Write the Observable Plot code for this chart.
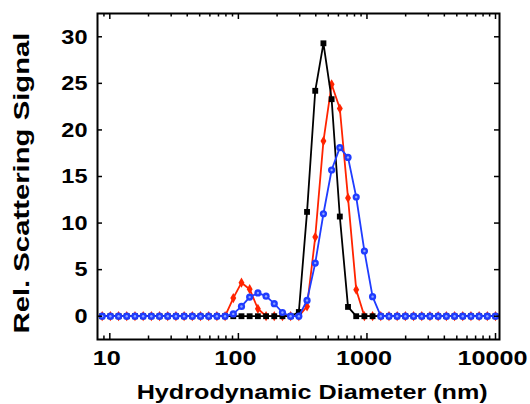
<!DOCTYPE html>
<html>
<head>
<meta charset="utf-8">
<script src="https://cdn.jsdelivr.net/npm/d3@7"></script>
<script src="https://cdn.jsdelivr.net/npm/@observablehq/plot@0.6"></script>
<style>
  body { margin: 0; background: #fff; }
  svg { font-family: "Liberation Sans", Arial, sans-serif; }
</style>
</head>
<body>
<div id="chart"></div>
<script>
// Size classes of the DLS intensity distribution (nm)
const sizes = [8.72, 10.10, 11.70, 13.54, 15.69, 18.17, 21.04, 24.36, 28.21, 32.67,
  37.84, 43.82, 50.75, 58.77, 68.06, 78.82, 91.28, 105.7, 122.4, 141.8,
  164.2, 190.1, 220.2, 255.0, 295.3, 342.0, 396.1, 458.7, 531.2, 615.1,
  712.4, 825.0, 955.4, 1106, 1281, 1484, 1718, 1990, 2305, 2669,
  3091, 3580, 4145, 4801, 5560, 6439, 7456, 8635, 10000];

// Relative scattering signal (%) per size class
const blackSignal = [0, 0, 0, 0, 0, 0, 0, 0, 0, 0,
  0, 0, 0, 0, 0, 0, 0, 0, 0, 0,
  0, 0, 0, 0, 0.45, 11.2, 24.2, 29.3, 23.3, 10.7,
  1.0, 0, 0, 0, 0, 0, 0, 0, 0, 0,
  0, 0, 0, 0, 0, 0, 0, 0, 0];
const redSignal = [0, 0, 0, 0, 0, 0, 0, 0, 0, 0,
  0, 0, 0, 0, 0, 0, 1.95, 3.6, 2.9, 0.8,
  0, 0, 0, 0, 0, 1.05, 8.5, 18.8, 24.9, 22.3,
  12.7, 2.85, 0, 0, 0, 0, 0, 0, 0, 0,
  0, 0, 0, 0, 0, 0, 0, 0, 0];
const blueSignal = [0, 0, 0, 0, 0, 0, 0, 0, 0, 0,
  0, 0, 0, 0, 0, 0, 0.25, 1.05, 2.05, 2.5,
  2.15, 1.35, 0.4, 0, 0, 1.7, 5.7, 11.0, 15.7, 18.1,
  17.05, 12.8, 7.0, 2.1, 0, 0, 0, 0, 0, 0,
  0, 0, 0, 0, 0, 0, 0, 0, 0];

const xTickValues = [10, 100, 1000, 10000];
const yTickValues = [0, 5, 10, 15, 20, 25, 30];
const xLabel = "Hydrodynamic Diameter (nm)";
const yLabel = "Rel. Scattering Signal";

const width = 530, height = 404;
const marginLeft = 97, marginRight = 31, marginTop = 13, marginBottom = 65;
const innerW = width - marginLeft - marginRight;
const innerH = height - marginTop - marginBottom;
const xDomain = [8.02, 10740];

// minor log ticks (2..9 per decade) inside the domain
const xMinor = [];
for (const decade of [1, 10, 100, 1000]) {
  for (let k = 2; k <= 9; k++) {
    const v = k * decade;
    if (v > xDomain[0] && v < xDomain[1]) xMinor.push(v);
  }
}

const series = [
  {values: redSignal, color: "#ff2400", symbol: "diamond", r: 3.1},
  {values: blackSignal, color: "#000000", symbol: "square", r: 3.3},
  {values: blueSignal, color: "#1f3cff", symbol: "circle", r: 3.6, highlight: "#8fa6ff"}
];

const marks = [];
for (const s of series) {
  const data = sizes.map((size, i) => ({size, value: s.values[i]}));
  marks.push(Plot.line(data, {x: "size", y: "value", stroke: s.color, strokeWidth: 1.8}));
  marks.push(Plot.dot(data, {x: "size", y: "value", symbol: s.symbol, r: s.r, fill: s.color, stroke: "none"}));
  if (s.highlight) {
    marks.push(Plot.dot(data, {x: "size", y: "value", r: 1.2, fill: s.highlight, stroke: "none"}));
  }
}

const tickStyle = {stroke: "black", strokeWidth: 1.5};

const chart = Plot.plot({
  width, height, marginLeft, marginRight, marginTop, marginBottom,
  x: {type: "log", domain: xDomain},
  y: {domain: [-2.5, 32.5]},
  marks: [
    ...marks,
    // inward ticks on all four sides
    Plot.ruleX(xTickValues, {...tickStyle, insetTop: innerH - 6}),
    Plot.ruleX(xTickValues, {...tickStyle, insetBottom: innerH - 6}),
    Plot.ruleX(xMinor, {...tickStyle, insetTop: innerH - 3.5}),
    Plot.ruleX(xMinor, {...tickStyle, insetBottom: innerH - 3.5}),
    Plot.ruleY(yTickValues, {...tickStyle, insetRight: innerW - 5}),
    Plot.ruleY(yTickValues, {...tickStyle, insetLeft: innerW - 5}),
    Plot.frame({stroke: "black", strokeWidth: 2}),
    Plot.axisX(xTickValues, {tickSize: 0, tickPadding: 11, tickFormat: d => String(d),
      fontSize: 21, fontWeight: "bold", fill: "black", label: null, dx: -3}),
    Plot.axisY(yTickValues, {tickSize: 0, tickPadding: 10, tickFormat: d => String(d),
      fontSize: 21, fontWeight: "bold", fill: "black", label: null}),
    Plot.text([xLabel], {frameAnchor: "bottom", text: d => d, dx: 13.7, dy: 53,
      fontSize: 20, fontWeight: "bold", fill: "black", lineAnchor: "middle", textAnchor: "middle",
      ariaLabel: () => "x-title"}),
    Plot.text([yLabel], {frameAnchor: "left", text: d => d, rotate: -90, dx: -76, dy: 6.5,
      fontSize: 22, fontWeight: "bold", fill: "black", lineAnchor: "middle", textAnchor: "middle",
      ariaLabel: () => "y-title"})
  ]
});

document.getElementById("chart").appendChild(chart);

// widen the bold lettering
function stretchText(selector, fn) {
  d3.select(chart).selectAll(selector).each(function () {
    const len = this.getComputedTextLength();
    this.setAttribute("textLength", fn(len));
    this.setAttribute("lengthAdjust", "spacingAndGlyphs");
  });
}
stretchText('g[aria-label="x-axis tick label"] text', len => len * 1.2);
stretchText('g[aria-label="y-axis tick label"] text', len => len * 1.12);
stretchText('text[aria-label="x-title"]', () => 351);
stretchText('text[aria-label="y-title"]', () => 301);
</script>
</body>
</html>
